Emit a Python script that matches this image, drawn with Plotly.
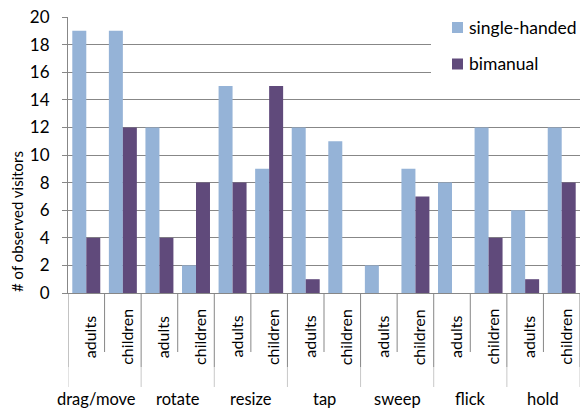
import plotly.graph_objects as go

# Observed gesture counts, split by gesture and age group
gestures = ["drag/move", "rotate", "resize", "tap", "sweep", "flick", "hold"]
groups = ["adults", "children"]
series_names = ["single-handed", "bimanual"]
single_handed = [19, 19, 12, 2, 15, 9, 12, 11, 2, 9, 8, 12, 6, 12]
bimanual = [4, 12, 4, 8, 8, 15, 1, 0, 0, 7, 0, 4, 1, 8]
y_ticks = list(range(0, 21, 2))

colors = ["#95B3D7", "#604A7B"]
grid = "#878787"
font_family = "Lato, 'Open Sans', sans-serif"

n = len(gestures) * len(groups)
xpos = list(range(n))

fig = go.Figure()
for name, vals, col in zip(series_names, [single_handed, bimanual], colors):
    fig.add_trace(go.Bar(x=xpos, y=vals, name=name, marker=dict(color=col, line_width=0),
                         showlegend=False))

# plot area geometry in pixels (used to place the label rows under the axis)
W, H = 584, 410
ml, mr, mt, mb = 68, 4, 17, 117
ph = H - mt - mb


def py(px):
    """pixel row -> paper y"""
    return (H - mb - px) / ph


def px_(x):
    """pixel column -> paper x"""
    return (x - ml) / (W - ml - mr)


shapes = []
annotations = []

# inner ticks between adults/children and their labels
for i in range(n):
    annotations.append(dict(x=i + 0.08, y=py(337), xref="x", yref="paper", text=groups[i % 2],
                            textangle=-90, showarrow=False, xanchor="center", yanchor="middle",
                            font=dict(size=16, color="#000000", family=font_family)))
for g in range(len(gestures)):
    xm = 2 * g + 0.5
    shapes.append(dict(type="line", xref="x", yref="paper", x0=xm, x1=xm, y0=0, y1=py(352),
                       line=dict(color=grid, width=1)))
    # the long first name is nudged left, as it is wider than its group
    annotations.append(dict(x=xm, y=py(399), xref="x", yref="paper", text=gestures[g],
                            showarrow=False, xanchor="center", yanchor="middle",
                            xshift=-8 if g == 0 else 0,
                            font=dict(size=16.5, color="#000000", family=font_family)))
# gesture group dividers
for g in range(len(gestures) + 1):
    xd = 2 * g - 0.5
    shapes.append(dict(type="line", xref="x", yref="paper", x0=xd, x1=xd, y0=0, y1=py(367),
                       line=dict(color=grid, width=1)))
    shapes.append(dict(type="line", xref="x", yref="paper", x0=xd, x1=xd, y0=py(367), y1=py(387),
                       line=dict(color="#C8C8C8", width=1)))

# legend panel: white backing over the grid, colour keys and names
shapes.append(dict(type="rect", xref="paper", yref="paper", x0=px_(431), x1=1.01, y0=py(86), y1=1.08,
                   fillcolor="white", line_width=0, layer="above"))
for name, col, cy in zip(series_names, colors, [27.5, 64]):
    shapes.append(dict(type="rect", xref="paper", yref="paper", x0=px_(452), x1=px_(463),
                       y0=py(cy + 5.5), y1=py(cy - 5.5), fillcolor=col, line_width=0, layer="above"))
    annotations.append(dict(x=px_(467), y=py(cy), xref="paper", yref="paper", text=name,
                            showarrow=False, xanchor="left", yanchor="middle",
                            font=dict(size=17.5, color="#000000", family=font_family)))

# y axis title
annotations.append(dict(x=px_(17), y=py(222), xref="paper", yref="paper", text="# of observed visitors",
                        textangle=-90, showarrow=False, xanchor="center", yanchor="middle",
                        font=dict(size=15, color="#000000", family=font_family)))

fig.update_layout(
    width=W, height=H,
    margin=dict(l=ml, r=mr, t=mt, b=mb),
    paper_bgcolor="white", plot_bgcolor="white",
    barmode="group", bargap=0.235, bargroupgap=0,
    font=dict(family=font_family, color="#000000"),
    shapes=shapes, annotations=annotations,
    xaxis=dict(range=[-0.5, n - 0.5], showticklabels=False, ticks="", showgrid=False,
               showline=True, linecolor=grid, linewidth=1, zeroline=False, fixedrange=True),
    yaxis=dict(range=[0, 20], tickvals=y_ticks, ticks="outside", ticklen=5, tickcolor=grid,
               showline=True, linecolor=grid, linewidth=1, showgrid=True, gridcolor=grid,
               gridwidth=1, zeroline=False, ticklabelstandoff=9,
               tickfont=dict(size=17, color="#000000", family=font_family)),
)

fig.write_html("out.html")
